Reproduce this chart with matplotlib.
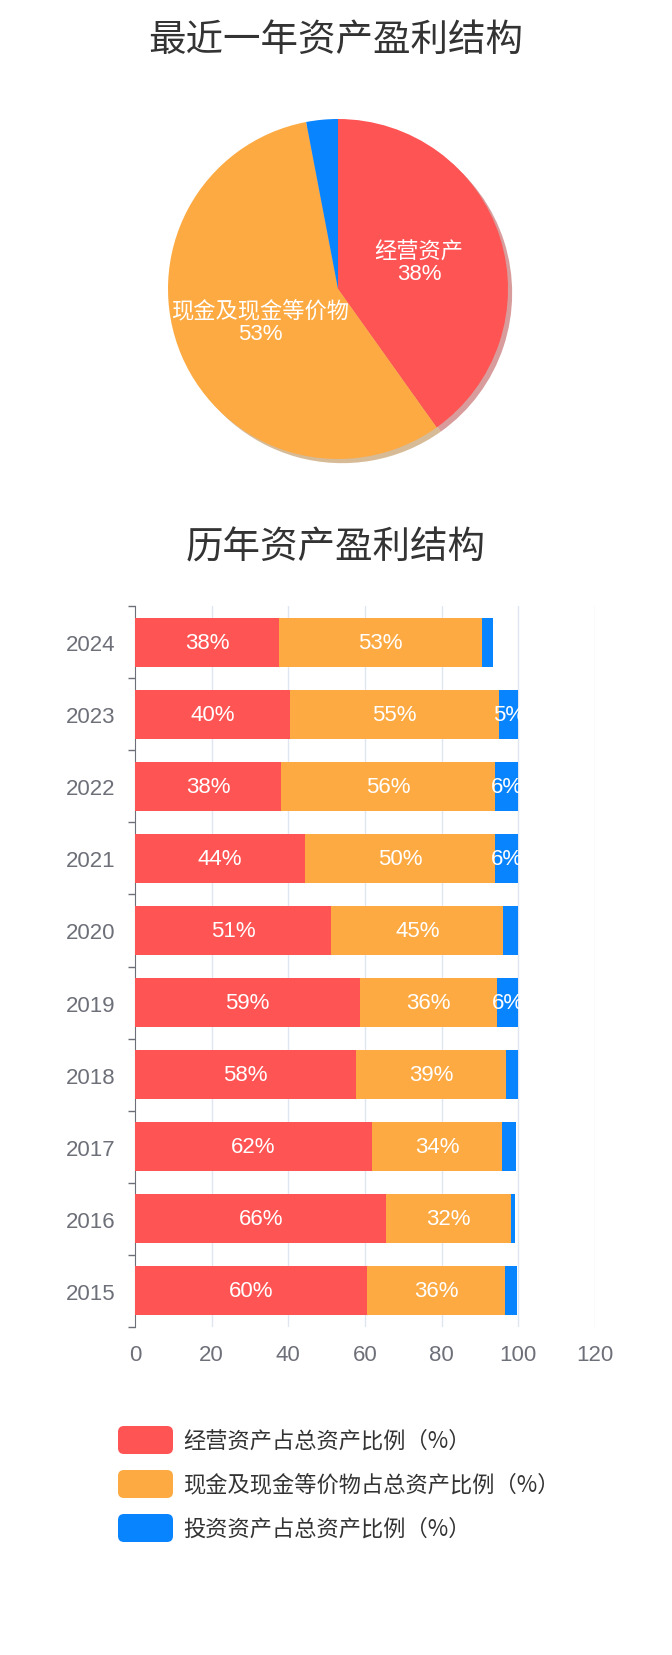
import matplotlib
matplotlib.use("Agg")
import matplotlib.pyplot as plt
from matplotlib.patches import FancyBboxPatch
import numpy as np

plt.rcParams['font.family'] = ['Liberation Sans', 'Noto Sans CJK SC', 'DejaVu Sans']
CJK = ['Noto Sans CJK SC', 'DejaVu Sans']

# ---- data ----
pie_title = "最近一年资产盈利结构"
pie_labels = ["经营资产", "现金及现金等价物", "投资资产"]
pie_values = [37.5, 53.1, 2.8]

bar_title = "历年资产盈利结构"
years = ["2015", "2016", "2017", "2018", "2019", "2020", "2021", "2022", "2023", "2024"]
operating = [60.4, 65.6, 61.7, 57.7, 58.6, 51.2, 44.4, 38.1, 40.4, 37.5]
cash = [36.2, 32.4, 34.1, 39.2, 35.9, 44.9, 49.6, 55.9, 54.6, 53.1]
invest = [3.1, 1.1, 3.7, 3.1, 5.5, 3.9, 6.0, 6.0, 5.0, 2.8]
series_names = ["经营资产占总资产比例（%）", "现金及现金等价物占总资产比例（%）", "投资资产占总资产比例（%）"]
x_ticks = [0, 20, 40, 60, 80, 100, 120]

colors = ["#ff5454", "#fdaa42", "#0984ff"]
W, H = 672, 1656
fig = plt.figure(figsize=(W / 100, H / 100), dpi=100)

def box(l, t, w, h):
    return [l / W, 1 - (t + h) / H, w / W, h / H]

# overlay for titles & legend
ov = fig.add_axes([0, 0, 1, 1])
ov.set_xlim(0, W)
ov.set_ylim(H, 0)
ov.axis("off")
ov.set_zorder(5)
ov.patch.set_alpha(0)
ov.text(336, 40, pie_title, ha="center", va="center", fontsize=27, color="#333333", family=CJK)
ov.text(336, 548, bar_title, ha="center", va="center", fontsize=27, color="#333333", family=CJK)

# ---- pie ----
cx, cy, R = 338, 290, 170
axp = fig.add_axes(box(cx - 190, cy - 190, 380, 380))
wedges, _ = axp.pie(pie_values, colors=colors, startangle=90, counterclock=False,
                    radius=R, center=(0, 0),
                    shadow={'ox': 3, 'oy': -3, 'shade': 0.3},
                    wedgeprops=dict(linewidth=0))
axp.set_xlim(-190, 190)
axp.set_ylim(-190, 190)
axp.set_aspect("equal")
axp.axis("off")
for w, lab, v in zip(wedges, pie_labels, pie_values):
    if v / sum(pie_values) < 0.05:
        continue
    mid = np.deg2rad((w.theta1 + w.theta2) / 2)
    x, y = 0.5 * R * np.cos(mid), 0.5 * R * np.sin(mid)
    axp.text(x, y, f"{lab}\n{v:.0f}%", ha="center", va="center", color="white",
             fontsize=16, linespacing=1.0)

# ---- bars ----
axb = fig.add_axes(box(135, 607, 460, 721))
ypos = np.arange(len(years))
bh = 0.68
left = np.zeros(len(years))
for vals, c in zip([operating, cash, invest], colors):
    vals = np.array(vals)
    axb.barh(ypos, vals, left=left, height=bh, color=c, zorder=3)
    for yi, (l, v) in enumerate(zip(left, vals)):
        if round(v) >= 5:
            axb.text(l + v / 2, yi, f"{v:.0f}%", ha="center", va="center",
                     color="white", fontsize=16, zorder=4)
    left = left + vals

axb.set_xlim(0, 120)
axb.set_ylim(-0.5, len(years) - 0.5)
axb.set_xticks(x_ticks)
axb.set_xticklabels([str(t) for t in x_ticks])
axb.set_yticks(ypos)
axb.set_yticklabels(years)
axb.set_yticks(np.arange(-0.5, len(years)), minor=True)
axb.tick_params(axis="y", which="major", length=0, pad=14, labelsize=16, labelcolor="#6e7079")
axb.tick_params(axis="y", which="minor", length=5, color="#6e7079", width=1)
axb.tick_params(axis="x", length=0, pad=12, labelsize=16, labelcolor="#6e7079")
for s in ["top", "right", "bottom"]:
    axb.spines[s].set_visible(False)
axb.spines["left"].set_color("#6e7079")
for t in x_ticks[1:]:
    axb.axvline(t, color="#e0e6f1", linewidth=1, zorder=1)

# ---- legend ----
for i, (name, c) in enumerate(zip(series_names, colors)):
    yc = 1441 + 44 * i
    ov.add_patch(FancyBboxPatch((118, yc - 14), 55, 28,
                                boxstyle="round,pad=0,rounding_size=6",
                                facecolor=c, edgecolor="none"))
    ov.text(183, yc, name, ha="left", va="center", fontsize=16, color="#333333", family=CJK)

fig.savefig("out.png", dpi=100)
